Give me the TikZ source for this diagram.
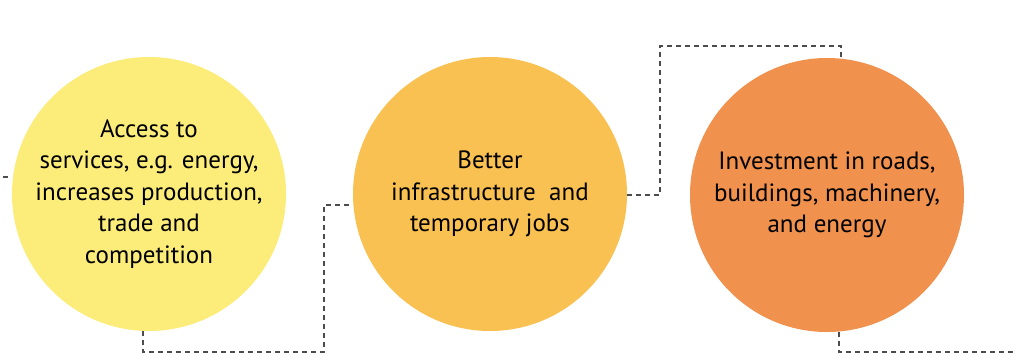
\documentclass[tikz,border=0pt]{standalone}
\usepackage{fontspec}
\setmainfont{PT Sans}
\begin{document}
\begin{tikzpicture}[x=1bp,y=-1bp,
  bubble/.style={circle,minimum size=274bp,inner sep=0pt,draw=none,align=center,
    font=\fontsize{25bp}{31.5bp}\selectfont,text=black},
  conn/.style={draw=black!70,line width=1.2bp,dash pattern=on 5bp off 4bp}]
\useasboundingbox (0,0) rectangle (1017,360);
\definecolor{cyel}{HTML}{FCEC7A}
\definecolor{cora}{HTML}{F9C052}
\definecolor{cdark}{HTML}{F0914E}
\node[bubble,fill=cyel] (c1) at (149,194) {Access to\\services, e.g. energy,\\increases production,\\trade and\\competition};
\node[bubble,fill=cora] (c2) at (490,194) {Better\\infrastructure\ \ and\\temporary jobs};
\node[bubble,fill=cdark] (c3) at (827,195) {Investment in roads,\\buildings, machinery,\\and energy};
\coordinate (e0) at (0,177);
\coordinate (a1) at (143,352);
\coordinate (a2) at (324,205);
\coordinate (b1) at (660,195);
\coordinate (b2) at (841,46);
\coordinate (d1) at (839,352);
\coordinate (d2) at (1017,352);
\draw[conn,dash phase=6bp] (e0) -- (e0 -| c1.west);
\draw[conn] (c1.south -| a1) -- (a1) -| (a2) -- (a2 -| c2.west);
\draw[conn] (c2.east |- b1) -- (b1) |- (b2) -- (b2 |- c3.north);
\draw[conn] (c3.south -| d1) -- (d1) -- (d2);
\end{tikzpicture}
\end{document}
